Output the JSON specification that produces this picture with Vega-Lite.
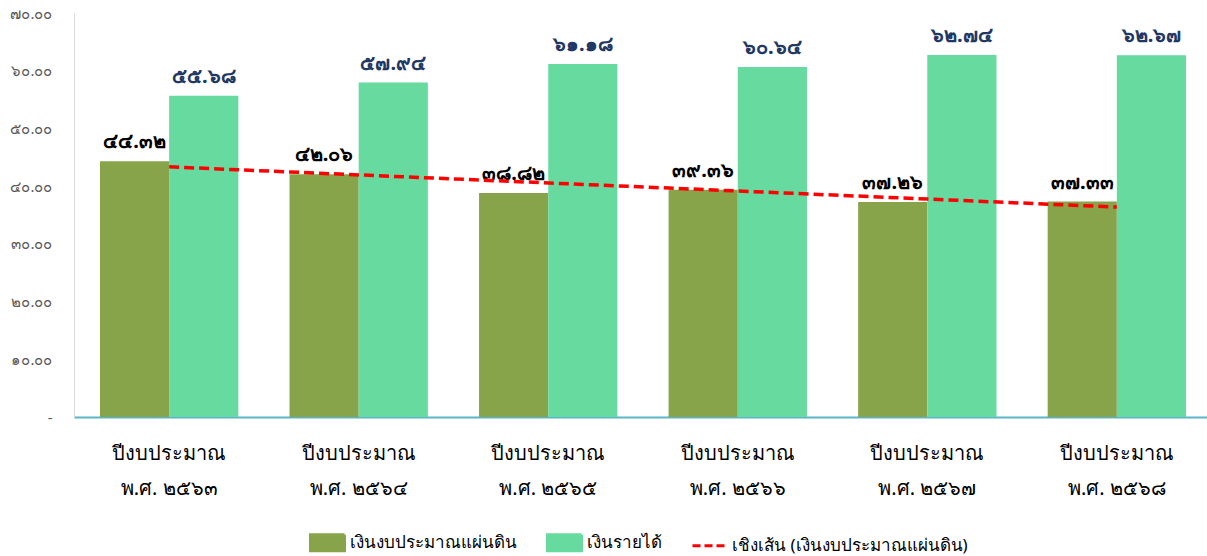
{
  "$schema": "https://vega.github.io/schema/vega-lite/v6.json",
  "width": 1138,
  "height": 404,
  "autosize": {"type": "none"},
  "padding": {"left": 74, "top": 13, "right": 0, "bottom": 139},
  "config": {"view": {"stroke": null}, "font": "Noto Sans"},
  "datasets": {
    "bars": [
      {"year": "ปีงบประมาณ|พ.ศ. ๒๕๖๓", "idx": 0, "series": "เงินงบประมาณแผ่นดิน", "value": 44.32, "label": "๔๔.๓๒"},
      {"year": "ปีงบประมาณ|พ.ศ. ๒๕๖๓", "idx": 0, "series": "เงินรายได้", "value": 55.68, "label": "๕๕.๖๘"},
      {"year": "ปีงบประมาณ|พ.ศ. ๒๕๖๔", "idx": 1, "series": "เงินงบประมาณแผ่นดิน", "value": 42.06, "label": "๔๒.๐๖"},
      {"year": "ปีงบประมาณ|พ.ศ. ๒๕๖๔", "idx": 1, "series": "เงินรายได้", "value": 57.94, "label": "๕๗.๙๔"},
      {"year": "ปีงบประมาณ|พ.ศ. ๒๕๖๕", "idx": 2, "series": "เงินงบประมาณแผ่นดิน", "value": 38.82, "label": "๓๘.๘๒"},
      {"year": "ปีงบประมาณ|พ.ศ. ๒๕๖๕", "idx": 2, "series": "เงินรายได้", "value": 61.18, "label": "๖๑.๑๘"},
      {"year": "ปีงบประมาณ|พ.ศ. ๒๕๖๖", "idx": 3, "series": "เงินงบประมาณแผ่นดิน", "value": 39.36, "label": "๓๙.๓๖"},
      {"year": "ปีงบประมาณ|พ.ศ. ๒๕๖๖", "idx": 3, "series": "เงินรายได้", "value": 60.64, "label": "๖๐.๖๔"},
      {"year": "ปีงบประมาณ|พ.ศ. ๒๕๖๗", "idx": 4, "series": "เงินงบประมาณแผ่นดิน", "value": 37.26, "label": "๓๗.๒๖"},
      {"year": "ปีงบประมาณ|พ.ศ. ๒๕๖๗", "idx": 4, "series": "เงินรายได้", "value": 62.74, "label": "๖๒.๗๔"},
      {"year": "ปีงบประมาณ|พ.ศ. ๒๕๖๘", "idx": 5, "series": "เงินงบประมาณแผ่นดิน", "value": 37.33, "label": "๓๗.๓๓"},
      {"year": "ปีงบประมาณ|พ.ศ. ๒๕๖๘", "idx": 5, "series": "เงินรายได้", "value": 62.67, "label": "๖๒.๖๗"}
    ]
  },
  "data": {"name": "bars"},
  "encoding": {
    "x": {
      "field": "year",
      "type": "nominal",
      "sort": null,
      "scale": {"paddingInner": 0.27, "paddingOuter": 0.137},
      "axis": {
        "title": null,
        "labelAngle": 0,
        "labelExpr": "split(datum.label, '|')",
        "labelFontSize": 20,
        "labelLineHeight": 35,
        "labelPadding": 26,
        "labelColor": "#000000",
        "ticks": false,
        "domainColor": "#5BB5C9",
        "domainWidth": 2
      }
    }
  },
  "layer": [
    {
      "mark": {"type": "bar"},
      "encoding": {
        "xOffset": {"field": "series", "type": "nominal", "sort": ["เงินงบประมาณแผ่นดิน", "เงินรายได้"], "scale": {"paddingInner": 0}},
        "y": {
          "field": "value",
          "type": "quantitative",
          "scale": {"domain": [0, 70]},
          "axis": {
            "title": null,
            "values": [0, 10, 20, 30, 40, 50, 60, 70],
            "labelExpr": "['-\u00a0\u00a0\u00a0', '๑๐.๐๐', '๒๐.๐๐', '๓๐.๐๐', '๔๐.๐๐', '๕๐.๐๐', '๖๐.๐๐', '๗๐.๐๐'][round(datum.value / 10)]",
            "grid": false,
            "ticks": false,
            "domainColor": "#D9D9D9",
            "labelFontSize": 15,
            "labelColor": "#595959",
            "labelPadding": 22
          }
        },
        "color": {
          "field": "series",
          "type": "nominal",
          "scale": {
            "domain": ["เงินงบประมาณแผ่นดิน", "เงินรายได้", "เชิงเส้น (เงินงบประมาณแผ่นดิน)"],
            "range": ["#88A44B", "#66DA9F", "#FF0000"]
          },
          "legend": {
            "title": null,
            "orient": "none",
            "direction": "horizontal",
            "legendX": 235,
            "legendY": 511,
            "labelFontSize": 17,
            "labelColor": "#000000",
            "labelOffset": 4,
            "labelLimit": 400,
            "columnPadding": 24,
            "symbolSize": 1156,
            "encode": {
              "symbols": {
                "update": {
                  "shape": {"signal": "datum.value === 'เชิงเส้น (เงินงบประมาณแผ่นดิน)' ? 'M-1,0H1' : 'M-1,-0.47H1V0.47H-1Z'"},
                  "fill": {"signal": "datum.value === 'เชิงเส้น (เงินงบประมาณแผ่นดิน)' ? 'transparent' : scale('color', datum.value)"},
                  "stroke": {"signal": "datum.value === 'เชิงเส้น (เงินงบประมาณแผ่นดิน)' ? '#FF0000' : 'transparent'"},
                  "strokeDash": {"signal": "datum.value === 'เชิงเส้น (เงินงบประมาณแผ่นดิน)' ? [8, 4] : [1, 0]"},
                  "strokeWidth": {"value": 3},
                  "size": {"value": 1156},
                  "opacity": {"value": 1}
                }
              }
            }
          }
        }
      }
    },
    {
      "mark": {"type": "text", "baseline": "bottom", "dy": -9, "fontSize": 20, "fontWeight": "bold"},
      "encoding": {
        "xOffset": {"field": "series", "type": "nominal", "sort": ["เงินงบประมาณแผ่นดิน", "เงินรายได้"]},
        "y": {"field": "value", "type": "quantitative"},
        "text": {"field": "label"},
        "color": {"condition": {"test": "datum.series === 'เงินรายได้'", "value": "#1F3864"}, "value": "#000000"}
      }
    },
    {
      "transform": [
        {"filter": "datum.series === 'เงินงบประมาณแผ่นดิน'"},
        {"regression": "value", "on": "idx"},
        {"lookup": "idx", "from": {"data": {"name": "bars"}, "key": "idx", "fields": ["year"]}}
      ],
      "mark": {"type": "line", "strokeDash": [10, 5], "strokeWidth": 3.5},
      "encoding": {
        "y": {"field": "value", "type": "quantitative"},
        "color": {"datum": "เชิงเส้น (เงินงบประมาณแผ่นดิน)"}
      }
    }
  ]
}
